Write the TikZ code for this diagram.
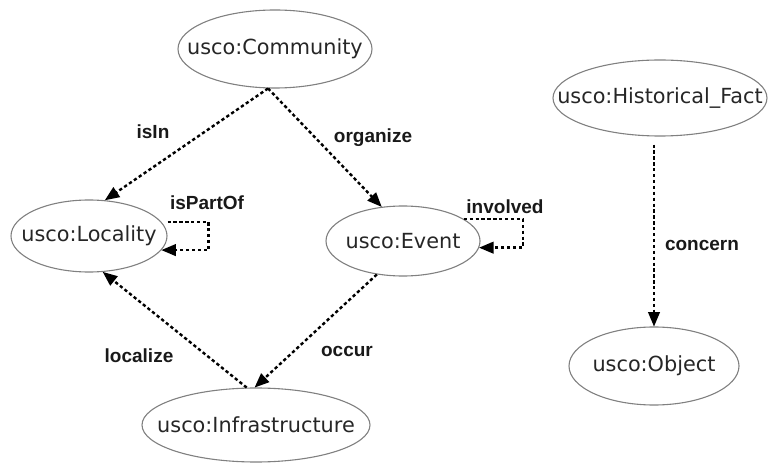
\documentclass[tikz,border=0pt]{standalone}
\usepackage{fontspec}
\setmainfont{DejaVu Sans}
\newfontfamily\lblfont{Liberation Sans}
\usetikzlibrary{positioning}
\usetikzlibrary{arrows}
\usetikzlibrary{shapes.geometric}

\tikzset{
  cls/.style={ellipse, draw=black!50, line width=1.1pt, inner sep=-60pt, text=black!85,
              font=\fontsize{20.8}{24}\selectfont},
  rel/.style={->, line width=2.4pt, dash pattern=on 3.3pt off 2.6pt},
  lbl/.style={font=\lblfont\bfseries\fontsize{19}{22}\selectfont, text=black!90, inner sep=0pt}
}

\begin{document}
\begin{tikzpicture}[>=triangle 45, x=1pt, y=-1pt, on grid]
    \useasboundingbox (0,0) rectangle (769,465);

    \node[cls, minimum width=194pt, minimum height=78pt] (comm) at (275,49) {usco:Community};
    \node[cls, minimum width=156pt, minimum height=72pt] (loc) [below left=187pt and 186pt of comm] {usco:Locality};
    \node[cls, minimum width=154pt, minimum height=70pt] (event) [below right=192pt and 128pt of comm] {usco:Event};
    \node[cls, minimum width=228pt, minimum height=74pt] (infra) [below left=184pt and 147pt of event] {usco:Infrastructure};
    \node[cls, minimum width=214pt, minimum height=76pt] (hist) [below right=49pt and 385pt of comm] {usco:Historical\_Fact};
    \node[cls, minimum width=170pt, minimum height=78pt] (obj) [below left=268pt and 6pt of hist] {usco:Object};

    % edge labels
    \node[lbl] (l-isin) at (153,132) {isIn};
    \node[lbl] (l-organize) at (373,138) {organize};
    \node[lbl] (l-ispartof) at (207,203) {isPartOf};
    \node[lbl] (l-involved) at (505,207) {involved};
    \node[lbl] (l-occur) at (347,351) {occur};
    \node[lbl] (l-localize) at (139,356) {localize};
    \node[lbl] (l-concern) at (702,245) {concern};

    \draw [rel] (comm.260) -- (loc.66);
    \draw [rel] (comm.260) -- (event.122);
    \draw [rel] ([yshift=14pt]loc.east) -- ++(41,0) |- (loc.-11);
    \draw [rel] (event.20) -- ++(59,0) |- (event.-5);
    \draw [rel] (event.232) -- (infra.92);
    \draw [rel] (infra.104) -- (loc.291);
    \draw [rel] ([yshift=-8pt]obj.north |- hist.south) -- (obj.north);
\end{tikzpicture}
\end{document}
